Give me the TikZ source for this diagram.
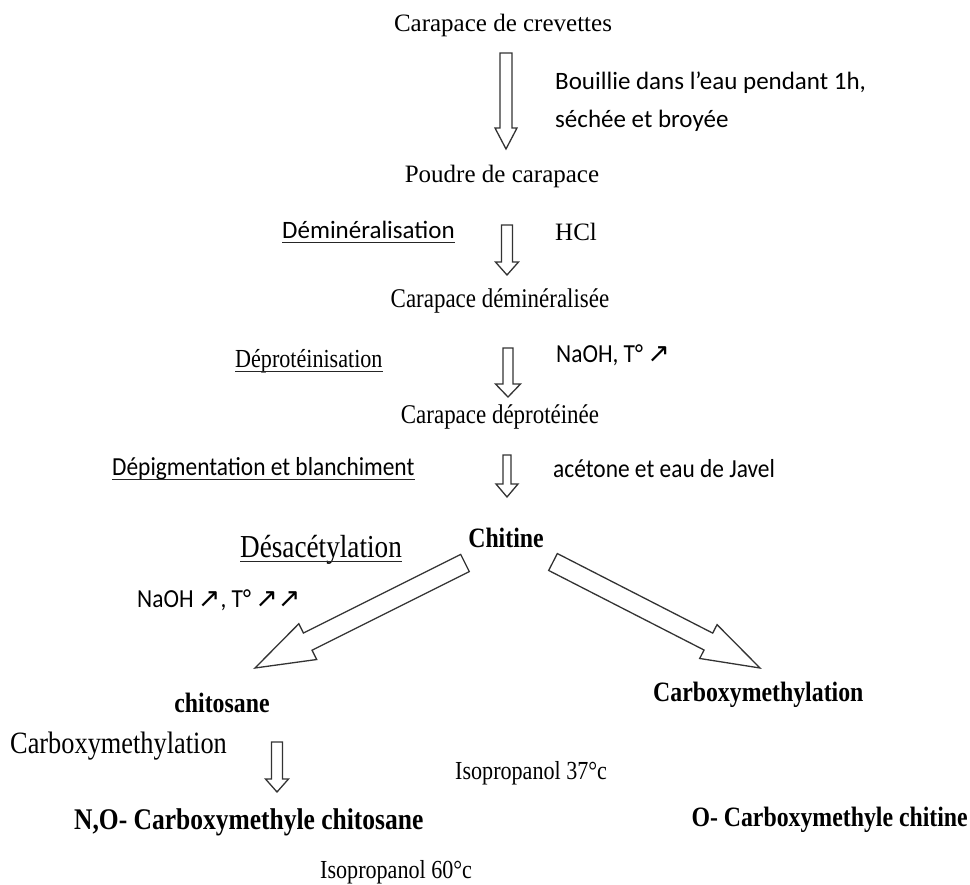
\documentclass[tikz,border=0pt]{standalone}
\usepackage{fontspec}
\setmainfont{Liberation Serif}
\newfontfamily\narrow[FakeStretch=0.85]{Liberation Serif}
\newfontfamily\calib{Carlito}
\newfontfamily\calibn[FakeStretch=0.9]{Carlito}
\newfontfamily\symb{DejaVu Sans}
\usepackage{tikz}
\usetikzlibrary{calc}
\tikzset{
  serif/.style={font=\fontsize{25}{28}\selectfont, inner sep=0pt},
  nserif/.style={font=\narrow\fontsize{26}{30}\selectfont, inner sep=0pt},
  sans/.style={font=\calib\fontsize{25}{30}\selectfont, inner sep=0pt},
  nsans/.style={font=\calibn\fontsize{26}{30}\selectfont, inner sep=0pt},
  bold/.style={font=\narrow\bfseries\fontsize{28}{32}\selectfont, inner sep=0pt},
  blockarrow/.style={draw=black!80, line width=1.3pt, fill=white, line join=miter},
  uline/.style={draw=black!85, line width=1.2pt}
}
\newcommand{\up}{{\symb\fontsize{27}{30}\selectfont ↗}}
% hollow arrow: tail, tip, shaft half width, head half width, head length
\newcommand{\barrow}[5]{
\coordinate (#1-hb) at ($(#2)!#5!(#1)$);
\draw[blockarrow] ($(#1)!#3!90:(#2)$) -- ($(#1-hb)!#3!-90:(#1)$) --
            ($(#1-hb)!#4!-90:(#1)$) -- (#2) -- ($(#1-hb)!#4!90:(#1)$) --
            ($(#1-hb)!#3!90:(#1)$) -- ($(#1)!#3!-90:(#2)$) -- cycle;
}
\newcommand{\ul}[1]{
\draw[uline] ([yshift=-4pt]#1.base west) -- ([yshift=-4pt]#1.base east);
}
\begin{document}
\begin{tikzpicture}[x=1pt,y=-1pt]
\useasboundingbox (0,0) rectangle (970,885);

% main chain
\node[serif] (crev) at (503,25) {Carapace de crevettes};
\node[sans, anchor=west] (boui1) at (555,83) {Bouillie dans l’eau pendant 1h,};
\node[sans, anchor=west] (boui2) at (555,121) {séchée et broyée};
\node[serif] (poudre) at (502,176) {Poudre de carapace};

\node[sans, anchor=west] (demin) at (282,230) {Déminéralisation};
\ul{demin}
\node[serif, anchor=west] (hcl) at (555,232) {HCl};
\node[nserif, font=\narrow\fontsize{27}{30}\selectfont] (cdemin) at (500,301) {Carapace déminéralisée};

\node[nserif, anchor=west] (deprot) at (235,361) {Déprotéinisation};
\ul{deprot}
\node[nsans, anchor=west] (naoh1) at (556,355) {NaOH, T°\,\up};
\node[nserif, font=\narrow\fontsize{27}{30}\selectfont] (cdeprot) at (500,417) {Carapace déprotéinée};

\node[nsans, anchor=west] (depig) at (112,469) {Dépigmentation et blanchiment};
\ul{depig}
\node[nsans, anchor=west] (javel) at (553,469) {acétone et eau de Javel};

\node[bold] (chitine) at (506,538) {Chitine};

% branches
\node[nserif, font=\narrow\fontsize{32}{36}\selectfont, anchor=west] (desac) at (240,550) {Désacétylation};
\ul{desac}
\node[nsans, anchor=west] (naoh2) at (137,600) {NaOH\,\up, T°\,\up\up};

\node[bold] (chitosane) at (222,703) {chitosane};
\node[bold, anchor=west] (carbo1) at (653,695) {Carboxymethylation};
\node[nserif, font=\narrow\fontsize{31}{34}\selectfont, anchor=west] (carbo2) at (10,746) {Carboxymethylation};
\node[nserif, anchor=west] (iso37) at (455,773) {Isopropanol 37°c};
\node[bold, anchor=east] (ochit) at (968,820) {O- Carboxymethyle chitine};
\node[bold, font=\narrow\bfseries\fontsize{30}{34}\selectfont, anchor=west] (nochit) at (74,822) {N,O- Carboxymethyle chitosane};
\node[nserif, anchor=west] (iso60) at (320,872) {Isopropanol 60°c};

% arrows
\coordinate (a1) at (506,53);  \coordinate (a1e) at (506,149);
\coordinate (a2) at (507,225); \coordinate (a2e) at (507,275);
\coordinate (a3) at (508,348); \coordinate (a3e) at (508,397);
\coordinate (a4) at (507,455); \coordinate (a4e) at (507,497);
\coordinate (a5) at (277,742); \coordinate (a5e) at (277,792);
\coordinate (al) at (465,563); \coordinate (ale) at (255,668);
\coordinate (ar) at (553,562); \coordinate (are) at (760,668);

\barrow{a1}{a1e}{6pt}{11pt}{21pt}
\barrow{a2}{a2e}{5.5pt}{11.5pt}{13pt}
\barrow{a3}{a3e}{5pt}{12.5pt}{13pt}
\barrow{a4}{a4e}{4pt}{11pt}{13pt}
\barrow{a5}{a5e}{5.5pt}{11.5pt}{13pt}
\barrow{al}{ale}{9.6pt}{20pt}{59pt}
\barrow{ar}{are}{9.5pt}{19pt}{58pt}
\end{tikzpicture}
\end{document}
